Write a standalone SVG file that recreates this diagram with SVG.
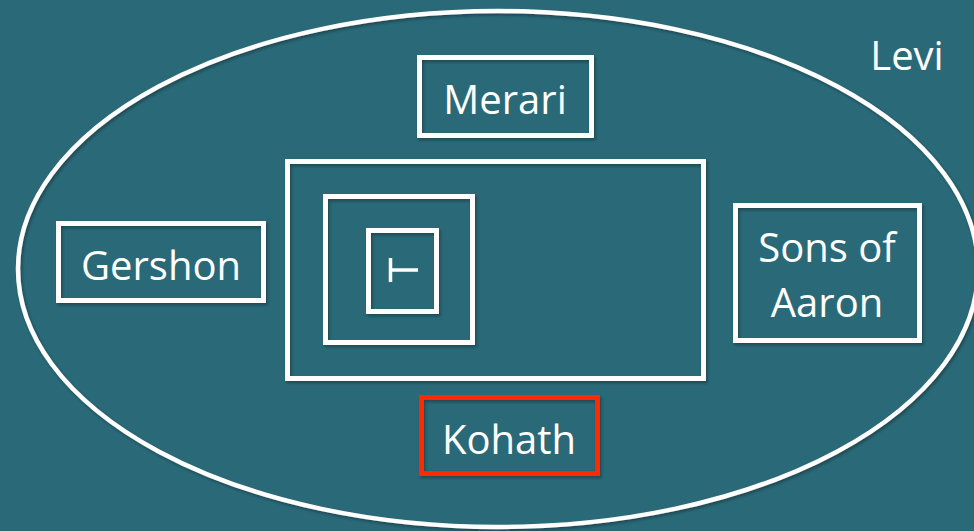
<svg xmlns="http://www.w3.org/2000/svg" width="974" height="531" viewBox="0 0 974 531">
<defs>
<filter id="sh" x="-10%" y="-10%" width="120%" height="120%">
<feDropShadow dx="1.5" dy="2" stdDeviation="1.5" flood-color="#0a2a33" flood-opacity="0.55"/>
</filter>
<style>
.b{fill:none;stroke:#ffffff;stroke-width:5}
.r{fill:none;stroke:#ff2a00;stroke-width:5}
.t{fill:#ffffff;font-family:"Open Sans","Liberation Sans",sans-serif;font-size:40px;text-anchor:middle}
</style>
</defs>
<rect width="974" height="531" fill="#2a6a78"/>
<g id="levi">
<ellipse cx="498" cy="269" rx="480" ry="258" fill="none" stroke="#ffffff" stroke-width="4.5" filter="url(#sh)"/>
<text class="t" x="907" y="70">Levi</text>
</g>
<g id="merari">
<rect class="b" x="419.5" y="57.5" width="172" height="78" filter="url(#sh)"/>
<text class="t" x="505" y="114">Merari</text>
</g>
<g id="outer-box">
<rect class="b" x="287.5" y="161.5" width="416" height="217" filter="url(#sh)"/>
</g>
<g id="middle-box">
<rect class="b" x="325.5" y="196.5" width="147" height="146" filter="url(#sh)"/>
</g>
<g id="inner-box">
<rect class="b" x="368.5" y="230.5" width="68" height="81" filter="url(#sh)"/>
<path d="M390.5 258 V282 M390.5 270 H418" fill="none" stroke="#ffffff" stroke-width="3.5"/>
</g>
<g id="gershon">
<rect class="b" x="58.5" y="223.5" width="205" height="77" filter="url(#sh)"/>
<text class="t" x="161" y="280">Gershon</text>
</g>
<g id="sons-of-aaron">
<rect class="b" x="735.5" y="205.5" width="184" height="135" filter="url(#sh)"/>
<text class="t" x="827" y="262">Sons of</text>
<text class="t" x="827" y="317">Aaron</text>
</g>
<g id="kohath">
<rect class="r" x="421.5" y="397.5" width="176" height="76" filter="url(#sh)"/>
<text class="t" x="509" y="454">Kohath</text>
</g>
<g id="connectors"/>
</svg>
